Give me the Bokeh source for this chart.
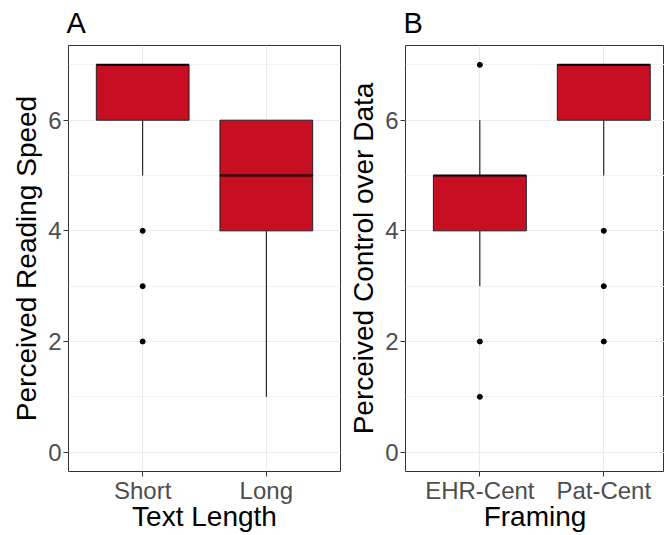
from bokeh.plotting import figure
from bokeh.layouts import row
from bokeh.models import FixedTicker, SingleIntervalTicker, Range1d, ColumnDataSource
from bokeh.embed import file_html
from bokeh.resources import INLINE

# ---- data ----
cats_a = ["Short", "Long"]
a_q1 = [6, 4]
a_med = [7, 5]
a_q3 = [7, 6]
a_lo = [5, 1]
a_hi = [7, 6]
a_out_cat = ["Short", "Short", "Short"]
a_out_val = [4, 3, 2]

cats_b = ["EHR-Cent", "Pat-Cent"]
b_q1 = [4, 6]
b_med = [5, 7]
b_q3 = [5, 7]
b_lo = [3, 5]
b_hi = [6, 7]
b_out_cat = ["EHR-Cent", "EHR-Cent", "EHR-Cent", "Pat-Cent", "Pat-Cent", "Pat-Cent"]
b_out_val = [7, 2, 1, 4, 3, 2]

FILL = "#C70E22"
FONT = "Liberation Sans"
Y_START, Y_END = -0.35, 7.35


def make_panel(title, cats, q1, med, q3, lo, hi, out_cat, out_val, xlabel, ylabel,
               width, left, right, xend):
    p = figure(width=width, height=535, output_backend="svg", toolbar_location=None,
               x_range=Range1d(0.4, xend), y_range=Range1d(Y_START, Y_END),
               min_border_left=left, min_border_right=right,
               min_border_top=45, min_border_bottom=64)
    p.title.text = title
    p.title.text_font = FONT
    p.title.text_font_size = "29px"
    p.title.text_font_style = "normal"
    p.title.text_color = "black"
    p.title.offset = -2
    p.title.vertical_align = "top"

    xs = [cats.index(c) + 1 for c in cats]
    src = ColumnDataSource(dict(x=xs, q1=q1, med=med, q3=q3, lo=lo, hi=hi,
                                l=[x - 0.375 for x in xs], r=[x + 0.375 for x in xs]))
    # whiskers
    p.segment(x0="x", y0="q3", x1="x", y1="hi", source=src, line_color="black", line_width=1)
    p.segment(x0="x", y0="q1", x1="x", y1="lo", source=src, line_color="black", line_width=1)
    # boxes
    p.vbar(x="x", width=0.75, bottom="q1", top="q3", source=src,
           fill_color=FILL, line_color="#222222", line_width=1)
    # median
    p.segment(x0="l", y0="med", x1="r", y1="med", source=src, line_color="black", line_width=2)
    # outliers
    ox = [cats.index(c) + 1 for c in out_cat]
    p.scatter(ox, out_val, size=5, color="black")

    p.xaxis.ticker = FixedTicker(ticks=xs)
    p.xaxis.major_label_overrides = {x: c for x, c in zip(xs, cats)}
    p.yaxis.ticker = SingleIntervalTicker(interval=2, num_minor_ticks=2)

    for ax in (p.xaxis[0], p.yaxis[0]):
        ax.axis_line_color = None
        ax.major_tick_line_color = "#333333"
        ax.major_tick_out = 5
        ax.major_tick_in = 0
        ax.minor_tick_line_color = None
        ax.major_label_text_font = FONT
        ax.major_label_text_font_size = "24px"
        ax.major_label_text_color = "#4D4D4D"
        ax.axis_label_text_font = FONT
        ax.axis_label_text_font_size = "28px"
        ax.axis_label_text_font_style = "normal"
        ax.axis_label_text_color = "black"
        ax.major_label_standoff = 2
    p.xaxis.axis_label = xlabel
    p.yaxis.axis_label = ylabel
    p.xaxis.major_label_standoff = 0
    p.xaxis.axis_label_standoff = -6
    p.yaxis.axis_label_standoff = 3

    p.xgrid.grid_line_color = "#EBEBEB"
    p.ygrid.grid_line_color = "#EBEBEB"
    p.ygrid.minor_grid_line_color = "#F2F2F2"
    p.outline_line_color = "#333333"
    p.outline_line_width = 1
    p.background_fill_color = "white"
    p.border_fill_color = "white"
    return p


pa = make_panel("A", cats_a, a_q1, a_med, a_q3, a_lo, a_hi, a_out_cat, a_out_val,
                "Text Length", "Perceived Reading Speed", 345, 68, 5, 2.6)
pb = make_panel("B", cats_b, b_q1, b_med, b_q3, b_lo, b_hi, b_out_cat, b_out_val,
                "Framing", "Perceived Control over Data", 319, 59, 0, 2.49)

layout = row(pa, pb)
open("out.html", "w").write(file_html(layout, INLINE))
